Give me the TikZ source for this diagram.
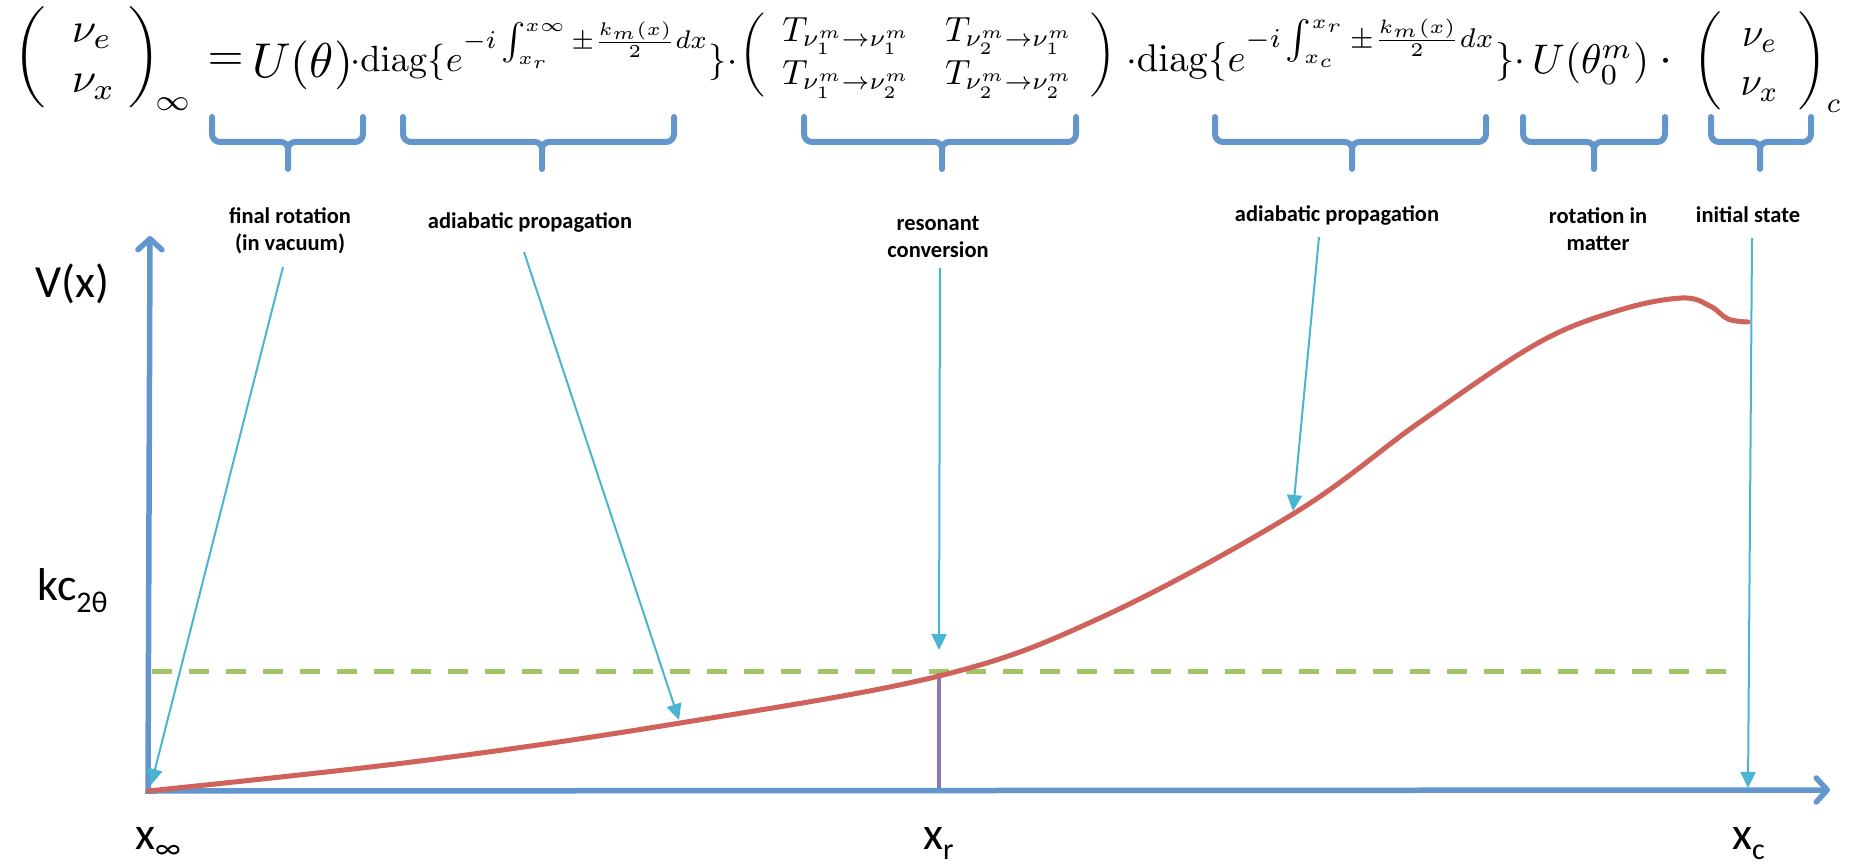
\documentclass[tikz,border=0pt]{standalone}
\usepackage[no-math]{fontspec}
\setmainfont{Carlito}
\usepackage{graphicx}
\usetikzlibrary{arrows.meta}
\definecolor{axisblue}{RGB}{98,150,205}
\definecolor{curvered}{RGB}{208,98,92}
\definecolor{dashgreen}{RGB}{162,196,100}
\definecolor{resviolet}{RGB}{140,118,180}
\definecolor{pointcyan}{RGB}{75,180,210}
\newcommand\mybrace[3]{%
  \draw[bracestyle] (#1,117) -- (#1,134) to[out=-90,in=180] (#1+8,142) -- (#3-7,142)
    to[out=0,in=90] (#3,149) -- (#3,169);
  \draw[bracestyle] (#3,149) to[out=90,in=180] (#3+7,142) -- (#2-8,142)
    to[out=0,in=-90] (#2,134) -- (#2,117);}
\begin{document}
\begin{tikzpicture}[x=1pt,y=-1pt,
  bracestyle/.style={draw=axisblue,line width=6pt,line cap=round,line join=round},
  axisline/.style={draw=axisblue,line width=5.5pt,line join=miter,
     {Straight Barb[length=11pt,width=24pt,round]}-{Straight Barb[length=11pt,width=24pt,round]}},
  pointer/.style={draw=pointcyan,line width=2pt,-{Triangle[length=16pt,width=15pt]}},
  lbl/.style={font=\fontsize{22.5}{27.5}\selectfont\bfseries,align=center,inner sep=0pt},
  axlbl/.style={font=\fontsize{46}{50}\selectfont,inner sep=0pt,anchor=base west},
  eq/.style={inner sep=0pt}]
\useasboundingbox (0,0) rectangle (1855,866);

% ---------- equation ----------
\node[eq,anchor=north west] (vinf) at (13,7)
  {\resizebox*{179pt}{103pt}{$\left(\begin{array}{@{\hspace{6pt}}l@{\hspace{3pt}}}\nu_e\\ \nu_x\end{array}\right)_{\!\infty}$}};
\node[eq,anchor=north] (eqsign) at (225.5,53) {\resizebox{36pt}{!}{$=$}};
\node[eq,anchor=base west] (Utheta) at (252,78) {\resizebox{101pt}{!}{$U(\theta)$}};
\node[eq,anchor=base west] (diagA) at (350,72)
  {\resizebox{387pt}{!}{$\cdot\mathrm{diag}\{e^{-i\int_{x_r}^{x\infty}\pm\frac{k_m(x)}{2}dx}\}\cdot$}};
\node[eq,anchor=west] (Tmat) at (739,55)
  {\resizebox*{377pt}{86pt}{$\left(\begin{array}{cc}T_{\nu_1^m\rightarrow\nu_1^m} & T_{\nu_2^m\rightarrow\nu_1^m}\\ T_{\nu_1^m\rightarrow\nu_2^m} & T_{\nu_2^m\rightarrow\nu_2^m}\end{array}\right)$}};
\node[eq,anchor=base west] (diagB) at (1126,72)
  {\resizebox{399pt}{!}{$\cdot\mathrm{diag}\{e^{-i\int_{x_c}^{x_r}\pm\frac{k_m(x)}{2}dx}\}\cdot$}};
\node[eq,anchor=base west] (Uzero) at (1532,74) {\resizebox{117pt}{!}{$U(\theta_0^m)$}};
\node[eq] (dotc) at (1666,62) {\resizebox{13pt}{!}{$\cdot$}};
\node[eq,anchor=north west] (vc) at (1693,12)
  {\resizebox*{149pt}{100pt}{$\left(\begin{array}{c}\nu_e\\ \nu_x\end{array}\right)_{c}$}};

% ---------- braces ----------
\mybrace{212}{363}{288}
\mybrace{403}{674}{542}
\mybrace{804}{1076}{942}
\mybrace{1215}{1486}{1352}
\mybrace{1523}{1665}{1594}
\mybrace{1711}{1811}{1760}

% ---------- labels ----------
\node[lbl] (lfinal) at (290,231) {final rotation\\(in vacuum)};
\node[lbl] (ladiaA) at (530,222) {adiabatic propagation};
\node[lbl] (lres) at (938,237) {resonant\\conversion};
\node[lbl] (ladiaB) at (1337,215) {adiabatic propagation};
\node[lbl] (lrot) at (1598,229) {rotation in\\matter};
\node[lbl] (linit) at (1748,215) {initial state};

% ---------- axes ----------
\coordinate (O) at (148,791);
\coordinate (yend) at (150,236);
\coordinate (xend) at (1830,790);
\draw[axisline] (yend) -- (O) -- (xend);

\node[axlbl] (lV) at (35,298) {V(x)};
\node[axlbl] (lk) at (37,600) {kc\raisebox{-12pt}{\fontsize{30}{30}\selectfont 2θ}};
\node[axlbl] (lxinf) at (135,849) {x\raisebox{-9pt}{\fontsize{30}{30}\selectfont ∞}};
\node[axlbl] (lxr) at (923,849) {x\raisebox{-10pt}{\fontsize{30}{30}\selectfont r}};
\node[axlbl] (lxc) at (1732,849) {x\raisebox{-10pt}{\fontsize{30}{30}\selectfont c}};

% ---------- level line and resonance ----------
\coordinate (dashL) at (152,671);
\coordinate (dashR) at (1742,671);
\draw[dashgreen,line width=5pt,dash pattern=on 20pt off 17pt] (dashL) -- (dashR);
\coordinate (res) at (939,673);
\coordinate (resfoot) at (939,788);
\draw[resviolet,line width=4pt] (resfoot) -- (res);

% ---------- potential curve ----------
\draw[curvered,line width=5pt,line cap=round,line join=round]
  plot[smooth,tension=0.6] coordinates {(148,791) (420,761) (674,724) (939,676)
  (1100,618) (1293,514) (1420,422) (1538,343) (1620,310) (1682,298) (1710,306)
  (1728,319) (1748,322)};

% ---------- pointers ----------
\coordinate (pA1) at (283,267);  \coordinate (pA2) at (151,785);
\coordinate (pB1) at (524,252);  \coordinate (pB2) at (679,720);
\coordinate (pC1) at (940,268);  \coordinate (pC2) at (939,650);
\coordinate (pD1) at (1319,237); \coordinate (pD2) at (1293,511);
\coordinate (pE1) at (1752,238); \coordinate (pE2) at (1748,788);
\draw[pointer] (pA1) -- (pA2);
\draw[pointer] (pB1) -- (pB2);
\draw[pointer] (pC1) -- (pC2);
\draw[pointer] (pD1) -- (pD2);
\draw[pointer] (pE1) -- (pE2);
\end{tikzpicture}
\end{document}
